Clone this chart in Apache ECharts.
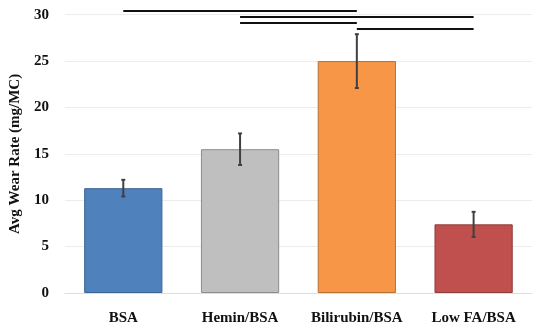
<!DOCTYPE html>
<html>
<head>
<meta charset="utf-8">
<script src="https://cdn.jsdelivr.net/npm/echarts@6/dist/echarts.min.js"></script>
<style>html,body{margin:0;padding:0;background:#fff}#c{width:550px;height:326px}</style>
</head>
<body>
<div id="c"></div>
<script>
var categories = ['BSA', 'Hemin/BSA', 'Bilirubin/BSA', 'Low FA/BSA'];
var values = [11.3, 15.5, 25.0, 7.4];
var errors = [0.9, 1.7, 2.9, 1.35];
var barColors = ['#4F81BD', '#BFBFBF', '#F79646', '#C0504D'];
var borderColors = ['#3A6595', '#8C8C8C', '#B8702F', '#8E3A38'];
// significance brackets: [fromIndex, toIndex, level]
var sigLines = [[0, 2, 30.4], [1, 3, 29.75], [1, 2, 29.1], [2, 3, 28.45]];
var yTicks = [0, 5, 10, 15, 20, 25, 30];

var font = 'Liberation Serif';
var chart = echarts.init(document.getElementById('c'));
var series = [{
  type: 'bar',
  barWidth: '67%',
  data: values.map(function (v, i) {
    return { value: v, itemStyle: { color: barColors[i], borderColor: borderColors[i], borderWidth: 1 } };
  }),
  silent: true,
  z: 2
}, {
  type: 'custom',
  silent: true,
  z: 5,
  data: values.map(function (v, i) { return [i, v - errors[i], v + errors[i]]; }),
  renderItem: function (params, api) {
    var x = api.value(0);
    var lo = api.coord([x, api.value(1)]);
    var hi = api.coord([x, api.value(2)]);
    var w = 2;
    var st = { stroke: '#404040', lineWidth: 2 };
    return {
      type: 'group',
      children: [
        { type: 'line', shape: { x1: hi[0], y1: hi[1], x2: lo[0], y2: lo[1] }, style: st },
        { type: 'line', shape: { x1: hi[0] - w, y1: hi[1], x2: hi[0] + w, y2: hi[1] }, style: st },
        { type: 'line', shape: { x1: lo[0] - w, y1: lo[1], x2: lo[0] + w, y2: lo[1] }, style: st }
      ]
    };
  }
}];
sigLines.forEach(function (s) {
  series.push({
    type: 'line',
    silent: true,
    clip: false,
    symbol: 'none',
    z: 6,
    lineStyle: { color: '#111', width: 2 },
    data: [[s[0], s[2]], [s[1], s[2]]]
  });
});

chart.setOption({
  animation: false,
  grid: { left: 62, right: 18, top: 14.7, bottom: 32.7 },
  xAxis: {
    type: 'category',
    data: categories,
    axisLine: { lineStyle: { color: '#dedede' } },
    axisTick: { show: false },
    axisLabel: { interval: 0, hideOverlap: false, color: '#111', fontFamily: font, fontWeight: 'bold', fontSize: 15, margin: 18 }
  },
  yAxis: {
    type: 'value',
    min: yTicks[0],
    max: yTicks[yTicks.length - 1],
    interval: 5,
    name: 'Avg Wear Rate (mg/MC)',
    nameLocation: 'middle',
    nameGap: 41,
    nameTextStyle: { color: '#111', fontFamily: font, fontWeight: 'bold', fontSize: 15 },
    axisLine: { show: false },
    axisTick: { show: false },
    splitLine: { lineStyle: { color: '#ececec' } },
    axisLabel: { color: '#111', fontFamily: font, fontWeight: 'bold', fontSize: 15, margin: 16 }
  },
  series: series
});
</script>
</body>
</html>
